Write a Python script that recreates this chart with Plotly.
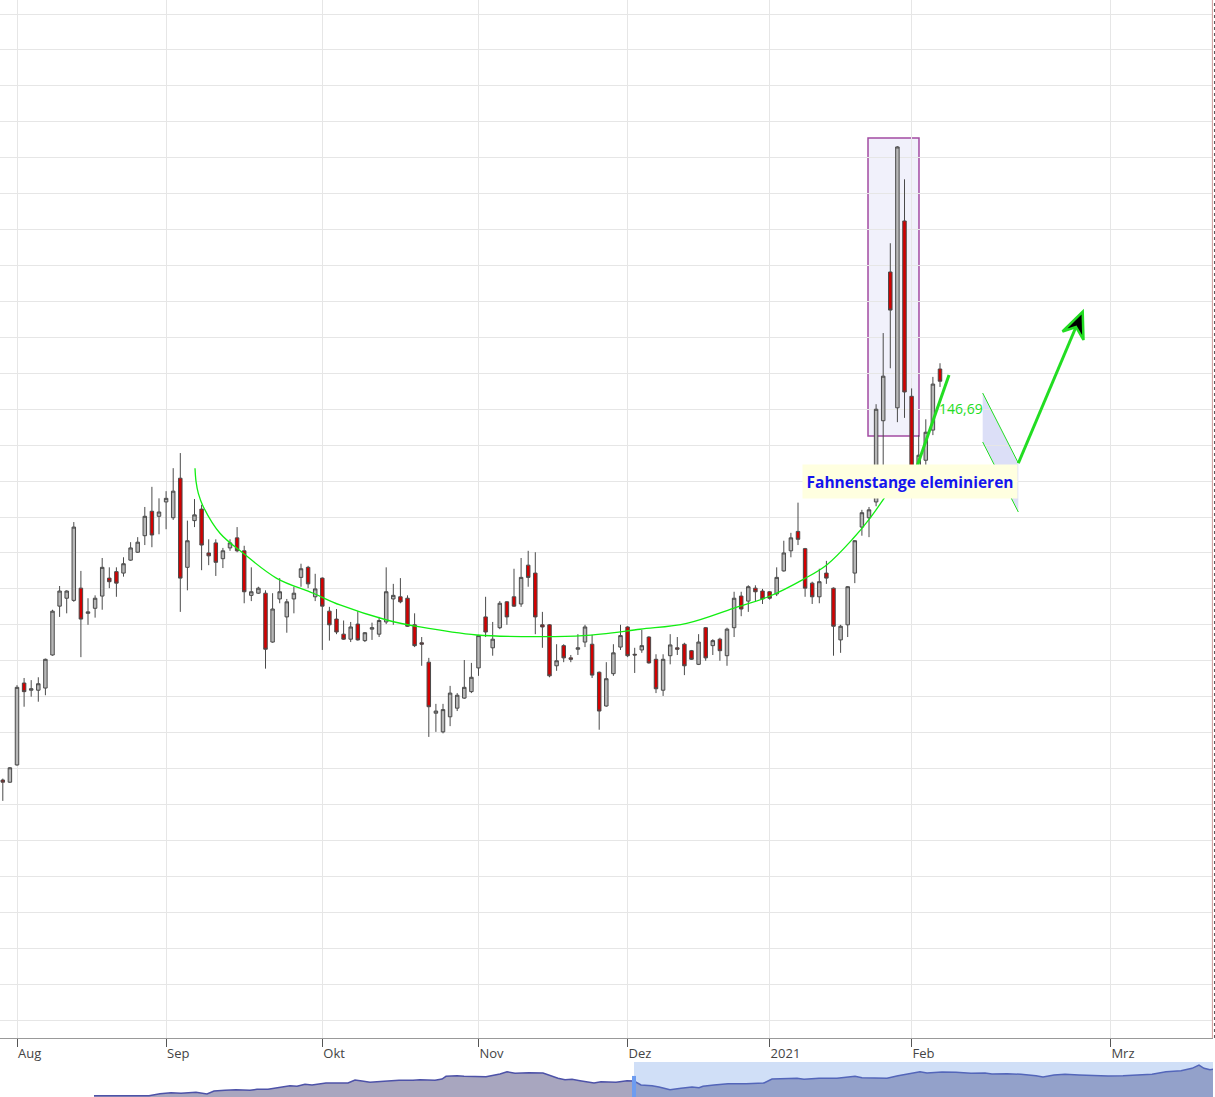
import plotly.graph_objects as go

# ---------------- candle data (trading-day index, Aug 3 2020 = 0) ----------------
day = list(range(-2, 131))
open_ = [93.4, 93.1, 95.5, 106.9, 105.9, 105.9, 106.2, 110.8, 117.6, 118.7,
         118.4, 120.1, 116.6, 117.3, 119.0, 121.5, 122.4, 122.2, 124.0, 125.1,
         127.4, 130.8, 130.1, 132.1, 129.9, 135.4, 123.0, 129.5, 131.1, 125.0,
         126.4, 124.2, 125.7, 127.1, 125.3, 119.1, 119.4, 119.4, 112.6, 118.6,
         116.1, 118.6, 121.6, 123.0, 118.9, 121.5, 116.9, 115.8, 113.7, 113.0,
         115.1, 112.8, 114.4, 113.7, 115.4, 118.6, 118.9, 118.7, 115.0, 112.5,
         109.8, 102.7, 100.1, 102.2, 103.4, 104.8, 105.7, 109.0, 116.1, 111.8,
         114.6, 118.2, 118.9, 117.9, 123.3, 122.2, 115.0, 115.0, 109.3, 112.1,
         110.4, 111.6, 112.6, 112.3, 108.4, 103.7, 108.2, 111.9, 114.7, 110.9,
         111.5, 113.3, 110.2, 105.9, 110.7, 111.8, 112.3, 111.4, 109.5, 114.6,
         112.1, 113.0, 110.7, 114.6, 119.0, 118.3, 120.1, 119.7, 119.6, 119.3,
         122.5, 125.3, 128.0, 125.6, 120.8, 118.9, 122.2, 120.1, 112.9, 115.0,
         122.2, 128.6, 129.9, 132.1, 143.4, 164.1, 145.2, 171.2, 146.8, 133.8,
         137.9, 142.1, 150.6]
high = [93.6, 95.2, 106.6, 107.6, 107.3, 107.7, 110.3, 117.1, 120.4, 119.8,
        129.3, 122.5, 118.7, 119.1, 124.3, 123.0, 123.0, 124.4, 126.5, 127.2,
        131.4, 134.2, 132.6, 133.6, 136.8, 138.9, 129.5, 132.5, 131.7, 126.9,
        126.9, 125.7, 126.9, 128.6, 126.0, 123.0, 120.3, 119.8, 119.4, 121.5,
        118.6, 120.3, 123.5, 123.2, 122.1, 121.6, 117.5, 117.2, 115.6, 115.4,
        116.9, 114.0, 115.3, 116.1, 123.0, 120.7, 121.5, 119.1, 116.6, 113.3,
        110.4, 104.0, 104.0, 106.5, 105.5, 110.1, 109.7, 113.6, 118.9, 115.4,
        118.3, 118.3, 122.8, 124.3, 125.3, 125.1, 116.8, 115.1, 112.3, 112.3,
        110.8, 113.7, 115.0, 113.6, 108.5, 109.8, 112.3, 115.0, 114.8, 111.8,
        114.3, 113.4, 110.9, 110.9, 113.7, 113.3, 112.5, 111.5, 113.7, 114.7,
        113.0, 113.2, 114.6, 119.6, 119.6, 120.5, 120.5, 120.0, 119.7, 123.0,
        126.7, 127.8, 132.0, 125.7, 121.0, 122.8, 123.9, 120.2, 115.0, 120.4,
        126.8, 131.0, 131.4, 145.7, 155.6, 168.1, 181.6, 177.0, 147.9, 141.4,
        143.6, 149.5, 151.4]
low = [90.5, 93.0, 95.4, 103.6, 105.0, 104.3, 105.2, 110.7, 116.1, 116.6,
       118.2, 110.5, 115.0, 116.0, 117.1, 120.1, 118.9, 121.7, 123.9, 125.0,
       126.1, 125.8, 127.6, 128.3, 129.6, 116.8, 119.8, 128.6, 122.6, 123.3,
       121.8, 122.9, 125.3, 125.1, 118.0, 118.3, 119.3, 108.9, 112.5, 118.0,
       113.9, 116.6, 120.3, 120.1, 118.3, 111.5, 112.8, 113.7, 112.9, 112.6,
       112.8, 112.6, 112.9, 113.3, 115.1, 115.0, 118.0, 114.7, 111.9, 109.3,
       99.4, 100.1, 99.9, 100.9, 103.0, 104.7, 105.5, 107.9, 113.3, 110.7,
       114.4, 115.0, 117.5, 117.5, 120.3, 113.7, 111.8, 107.7, 108.6, 109.8,
       109.8, 110.8, 111.9, 107.6, 100.4, 103.6, 107.9, 111.5, 110.5, 108.3,
       111.1, 109.6, 105.5, 105.1, 109.5, 110.8, 108.0, 110.1, 109.4, 110.0,
       110.8, 110.0, 109.3, 113.3, 116.2, 116.8, 118.2, 117.9, 118.5, 119.0,
       122.4, 124.4, 126.1, 118.9, 117.9, 118.0, 120.7, 110.7, 111.1, 113.3,
       120.8, 127.4, 127.2, 131.5, 137.1, 150.7, 143.2, 143.8, 133.5, 133.1,
       136.6, 141.4, 148.1]
close = [93.1, 95.1, 106.3, 105.7, 106.1, 106.8, 110.2, 116.9, 119.7, 119.7,
         128.6, 115.8, 116.8, 118.7, 123.0, 121.0, 120.8, 123.5, 125.7, 126.5,
         130.1, 127.5, 130.7, 132.6, 133.6, 121.5, 126.7, 130.3, 126.1, 124.6,
         123.7, 125.3, 126.4, 125.3, 119.6, 119.6, 120.1, 111.6, 117.2, 119.6,
         118.2, 119.4, 122.8, 120.7, 120.0, 117.6, 115.0, 114.0, 113.0, 114.7,
         112.9, 113.9, 114.6, 115.6, 119.6, 119.1, 118.2, 114.8, 112.1, 112.3,
         103.6, 103.0, 103.2, 105.5, 105.2, 106.3, 107.7, 113.5, 114.0, 113.0,
         118.0, 116.1, 117.6, 121.6, 121.6, 116.1, 114.7, 107.9, 110.0, 110.4,
         110.2, 111.8, 114.7, 108.0, 103.0, 107.5, 111.1, 113.5, 110.7, 110.8,
         112.1, 109.7, 106.1, 110.2, 112.2, 111.6, 109.3, 110.2, 112.6, 110.4,
         112.8, 111.4, 114.4, 118.7, 117.2, 120.3, 119.6, 118.6, 118.7, 121.6,
         125.0, 127.1, 126.9, 120.1, 118.9, 121.0, 121.5, 114.8, 114.8, 120.3,
         126.7, 130.6, 131.0, 145.0, 149.6, 158.8, 181.5, 147.4, 134.5, 138.6,
         141.8, 148.5, 148.9]

# month ticks (trading-day index of first session; future uses calendar days)
month_pos = [0, 21, 43, 65, 86, 106, 126, 154]
month_lbl = ["Aug", "Sep", "Okt", "Nov", "Dez", "2021", "Feb", "Mrz"]

# ---------------- drawings ----------------
cup_x = [25.07, 25.21, 25.54, 26.24, 28.59, 31.87, 36.58, 41.73, 45.49, 52.07,
         56.76, 64.75, 73.66, 79.76, 87.75, 94.32, 100.89, 106.06, 110.75,
         114.04, 117.79, 120.04, 122.46]
cup_y = [136.78, 135.0, 133.3, 131.44, 127.74, 124.95, 121.47, 119.39, 117.76,
         115.67, 114.70, 113.58, 113.35, 113.49, 114.38, 115.21, 117.30, 119.01,
         121.33, 123.33, 127.04, 129.71, 133.07]
pole_x = [119.86, 127.04]
pole_y = [141.28, 182.75]
trend_x = [125.35, 131.27]
trend_y = [133.07, 149.77]
flag_x = [136.01, 141.03, 141.03, 136.01]
flag_y = [147.26, 137.52, 130.70, 140.44]
arrow_x = [141.03, 149.15]
arrow_y = [137.48, 156.45]
head_x = [150.10, 150.21, 149.15, 147.25]
head_y = [158.57, 154.64, 156.45, 155.82]
label_xy = [125.77, 134.95]
price_xy = [129.6, 145.12]
price_txt = "146,69"

# ---------------- navigator series ----------------
nav_t = [94, 149, 160, 171, 181, 196, 207, 214, 225, 236, 250, 257, 268, 279,
         290, 297, 305, 312, 326, 348, 355, 362, 370, 384, 399, 413, 420, 435,
         442, 446, 457, 464, 486, 500, 507, 515, 522, 529, 543, 551, 558, 565,
         572, 580, 587, 594, 601, 616, 627, 634, 641, 652, 659, 670, 681, 692,
         699, 703, 714, 728, 746, 764, 772, 786, 797, 804, 819, 837, 848, 855,
         862, 877, 887, 898, 913, 920, 927, 942, 956, 971, 985, 992, 1007, 1021,
         1036, 1043, 1054, 1065, 1079, 1094, 1108, 1123, 1137, 1152, 1166, 1181,
         1192, 1199, 1204, 1210, 1215]
nav_v = [1.3, 1.3, 3.3, 4.3, 3.7, 4.7, 3.0, 6.0, 6.7, 7.3, 6.7, 7.7, 7.7, 9.3,
         11.3, 10.7, 12.7, 12.0, 14.0, 14.0, 17.0, 16.0, 14.7, 15.7, 16.7, 16.7,
         17.3, 16.7, 18.0, 20.7, 21.3, 20.7, 20.3, 23.0, 25.3, 23.7, 24.0, 24.3,
         24.0, 21.3, 18.7, 17.3, 17.7, 16.3, 15.3, 14.0, 15.3, 14.7, 16.3, 16.0,
         12.0, 11.3, 10.0, 7.3, 8.7, 10.0, 9.3, 10.7, 12.0, 13.3, 13.3, 14.0,
         18.0, 18.0, 18.7, 17.7, 18.7, 18.7, 20.0, 20.7, 19.3, 19.3, 18.7, 21.3,
         23.7, 25.3, 24.0, 25.0, 24.7, 23.7, 24.0, 23.0, 23.3, 22.7, 21.3, 20.0,
         22.0, 22.7, 22.0, 21.3, 21.0, 21.3, 22.0, 22.7, 25.3, 26.3, 28.7, 32.0,
         28.7, 27.3, 28.0]
nav_sel = [634, 1216]

GREEN = "#22dd22"

fig = go.Figure()
fig.add_trace(go.Candlestick(
    x=day, open=open_, high=high, low=low, close=close,
    increasing=dict(line=dict(color="#4a4a4a", width=1), fillcolor="#b7b7b7"),
    decreasing=dict(line=dict(color="#4a4a4a", width=1), fillcolor="#d40000"),
    whiskerwidth=0, showlegend=False, hoverinfo="skip"))
fig.add_trace(go.Scatter(x=cup_x, y=cup_y, mode="lines",
                         line=dict(color="#11ee11", width=1.3, shape="spline"),
                         showlegend=False, hoverinfo="skip"))
fig.add_trace(go.Scatter(x=trend_x, y=trend_y, mode="lines",
                         line=dict(color=GREEN, width=3),
                         showlegend=False, hoverinfo="skip"))
fig.add_trace(go.Scatter(x=nav_t, y=nav_v, xaxis="x2", yaxis="y2", mode="lines",
                         line=dict(color="#4d52a8", width=1.5),
                         fill="tozeroy", fillcolor="#a8a6bf",
                         showlegend=False, hoverinfo="skip"))

def path(xs, ys, close_it=True):
    s = "M " + " L ".join(f"{a},{b}" for a, b in zip(xs, ys))
    return s + (" Z" if close_it else "")

shapes = [
    dict(type="rect", xref="x", yref="y", x0=pole_x[0], x1=pole_x[1],
         y0=pole_y[0], y1=pole_y[1], fillcolor="rgba(185,185,235,0.2)",
         line=dict(color="#a24ba2", width=1.5), layer="below"),
    dict(type="path", xref="x", yref="y", path=path(flag_x, flag_y),
         fillcolor="#dcdff7", line=dict(width=0), layer="below"),
    dict(type="line", xref="x", yref="y", x0=flag_x[0], y0=flag_y[0],
         x1=flag_x[1], y1=flag_y[1], line=dict(color=GREEN, width=1)),
    dict(type="line", xref="x", yref="y", x0=flag_x[3], y0=flag_y[3],
         x1=flag_x[2], y1=flag_y[2], line=dict(color=GREEN, width=1)),
    dict(type="line", xref="x", yref="y", x0=arrow_x[0], y0=arrow_y[0],
         x1=arrow_x[1], y1=arrow_y[1], line=dict(color=GREEN, width=3)),
    dict(type="path", xref="x", yref="y", path=path(head_x, head_y),
         fillcolor="#000000", line=dict(color=GREEN, width=2.5)),
    dict(type="rect", xref="x2", yref="paper", x0=nav_sel[0], x1=nav_sel[1],
         y0=0, y1=0.0319, fillcolor="rgba(100,150,230,0.3)", line=dict(width=0)),
    dict(type="rect", xref="x2", yref="paper", x0=nav_sel[0] - 2, x1=nav_sel[0] + 2,
         y0=0, y1=0.0192, fillcolor="#6d9cf0", line=dict(width=0)),
    dict(type="line", xref="paper", yref="paper", x0=0.9995, x1=0.9995,
         y0=0.05378, y1=1, line=dict(color="#d09a9a", width=1)),
    dict(type="line", xref="paper", yref="paper", x0=1.0012, x1=1.0012,
         y0=0.05378, y1=1, line=dict(color="#555555", width=1, dash="dot")),
]

annotations = [
    dict(x=label_xy[0], y=label_xy[1], xref="x", yref="y",
         text="<b>Fahnenstange eleminieren</b>", showarrow=False,
         font=dict(family="Open Sans", size=15.5, color="#1515ee"),
         bgcolor="#ffffe0", width=210, height=29, borderpad=2),
    dict(x=price_xy[0], y=price_xy[1], xref="x", yref="y", text=price_txt,
         showarrow=False, xanchor="left",
         font=dict(family="Open Sans", size=14, color=GREEN)),
]

fig.update_layout(
    width=1215, height=1097,
    margin=dict(l=0, r=2, t=0, b=0),
    plot_bgcolor="white", paper_bgcolor="white",
    showlegend=False,
    shapes=shapes, annotations=annotations,
    xaxis=dict(domain=[0, 1], anchor="y", range=[-2.394, 168.45],
               tickmode="array", tickvals=month_pos, ticktext=month_lbl,
               ticklabelposition="outside right", ticks="outside", ticklen=8,
               ticklabelstandoff=3,
               tickcolor="#555555", showline=True, linecolor="#999999",
               showgrid=True, gridcolor="#e6e6e6", zeroline=False,
               tickfont=dict(family="Open Sans", size=13, color="#444444"),
               rangeslider=dict(visible=False)),
    yaxis=dict(domain=[0.05378, 1], anchor="x", range=[57.5, 201.95],
               tick0=0, dtick=5, showticklabels=False, ticks="",
               showgrid=True, gridcolor="#e6e6e6", zeroline=False),
    xaxis2=dict(domain=[0, 1], anchor="y2", range=[0, 1213], visible=False),
    yaxis2=dict(domain=[0, 0.0319], anchor="x2", range=[0, 35], visible=False),
)

fig.write_html("out.html", config={"displayModeBar": False},
               post_script="document.body.style.margin='0';document.body.style.overflow='hidden';")
